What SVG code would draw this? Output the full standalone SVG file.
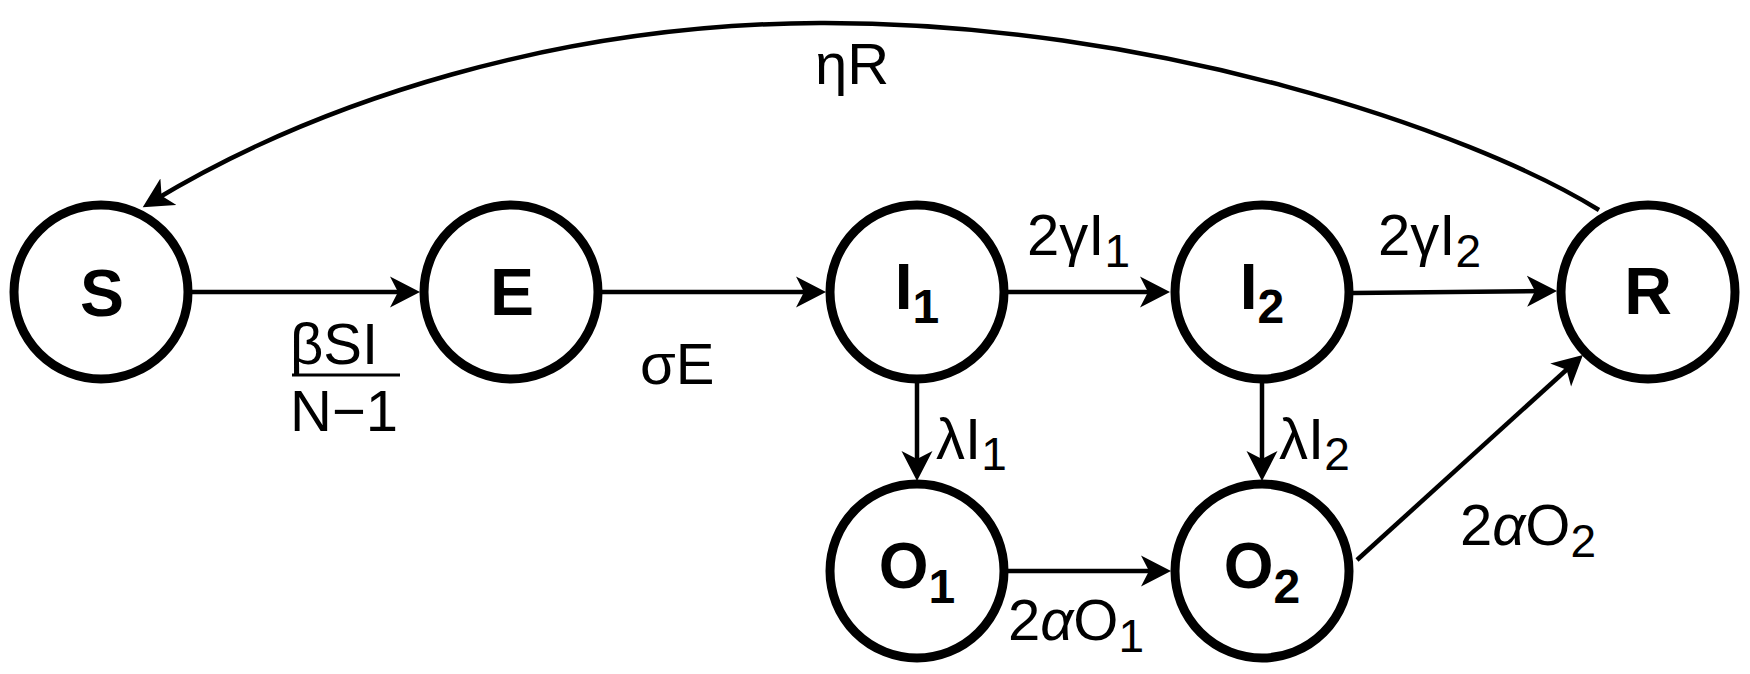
<svg xmlns="http://www.w3.org/2000/svg" width="1750" height="674" viewBox="0 0 1750 674">
<style>
.node circle{fill:#fff;stroke:#000;stroke-width:9}
.nl{font-family:"Liberation Sans",Arial,sans-serif;font-weight:bold;font-size:66px;text-anchor:middle;fill:#000}
.nl2{font-family:"Liberation Sans",Arial,sans-serif;font-weight:bold;font-size:64px;text-anchor:middle;fill:#000}
.ns{font-size:48px}
.edge{fill:none;stroke:#000;stroke-width:4.5;marker-end:url(#ah)}
.lbl{font-family:"Liberation Sans",Arial,sans-serif;font-size:58px;fill:#000}
.sub{font-size:46px}
.it{font-style:italic}
</style>
<defs>
<marker id="ah" markerUnits="userSpaceOnUse" viewBox="0 -16 32 32" refX="18" refY="0" markerWidth="32" markerHeight="32" orient="auto">
<path d="M0,-15.5 L30,0 L0,15.5 L8,0 Z" fill="#000"/>
</marker>
</defs>
<rect width="1750" height="674" fill="#fff"/>
<g id="connectors">
<path class="edge" d="M192,292 L408,292"/>
<path class="edge" d="M602,292 L814,292"/>
<path class="edge" d="M1008,292 L1158,292"/>
<path class="edge" d="M1353,293 L1545,291"/>
<path class="edge" d="M917,383 L917,469"/>
<path class="edge" d="M1262,383 L1262,469"/>
<path class="edge" d="M1008,571 L1159,571"/>
<path class="edge" d="M1357,560 L1574,363"/>
<path class="edge" d="M1599,210 C1470,130 1150,22 820,23 C560,24 320,100 153,201"/>
<text class="lbl" x="290" y="364">βSI</text>
<line x1="292" y1="375" x2="400" y2="375" stroke="#000" stroke-width="3"/>
<text class="lbl" x="290" y="431">N−1</text>
<text class="lbl" x="640" y="384">σE</text>
<text class="lbl" x="1027" y="255">2γI<tspan class="sub" dy="12">1</tspan></text>
<text class="lbl" x="1378" y="255">2γI<tspan class="sub" dy="12">2</tspan></text>
<text class="lbl" x="936" y="459">λI<tspan class="sub" dy="11">1</tspan></text>
<text class="lbl" x="1279" y="459">λI<tspan class="sub" dy="11">2</tspan></text>
<text class="lbl" x="1008" y="640">2<tspan class="it">α</tspan>O<tspan class="sub" dy="12">1</tspan></text>
<text class="lbl" x="1460" y="545">2<tspan class="it">α</tspan>O<tspan class="sub" dy="12">2</tspan></text>
<text class="lbl" x="815" y="84">ηR</text>
</g>
<g id="node-S" class="node"><circle cx="101" cy="292" r="87"/><text class="nl" x="102" y="316">S</text></g>
<g id="node-E" class="node"><circle cx="511" cy="292" r="87"/><text class="nl" x="512" y="315">E</text></g>
<g id="node-I1" class="node"><circle cx="917" cy="292" r="87"/><text class="nl2" x="917" y="309">I<tspan class="ns" dy="14">1</tspan></text></g>
<g id="node-I2" class="node"><circle cx="1262" cy="292" r="87"/><text class="nl2" x="1262" y="309">I<tspan class="ns" dy="14">2</tspan></text></g>
<g id="node-R" class="node"><circle cx="1648" cy="292" r="87"/><text class="nl" x="1648" y="314">R</text></g>
<g id="node-O1" class="node"><circle cx="917" cy="571" r="87"/><text class="nl2" x="917" y="588">O<tspan class="ns" dy="15">1</tspan></text></g>
<g id="node-O2" class="node"><circle cx="1262" cy="571" r="87"/><text class="nl2" x="1262" y="588">O<tspan class="ns" dy="15">2</tspan></text></g>
</svg>
